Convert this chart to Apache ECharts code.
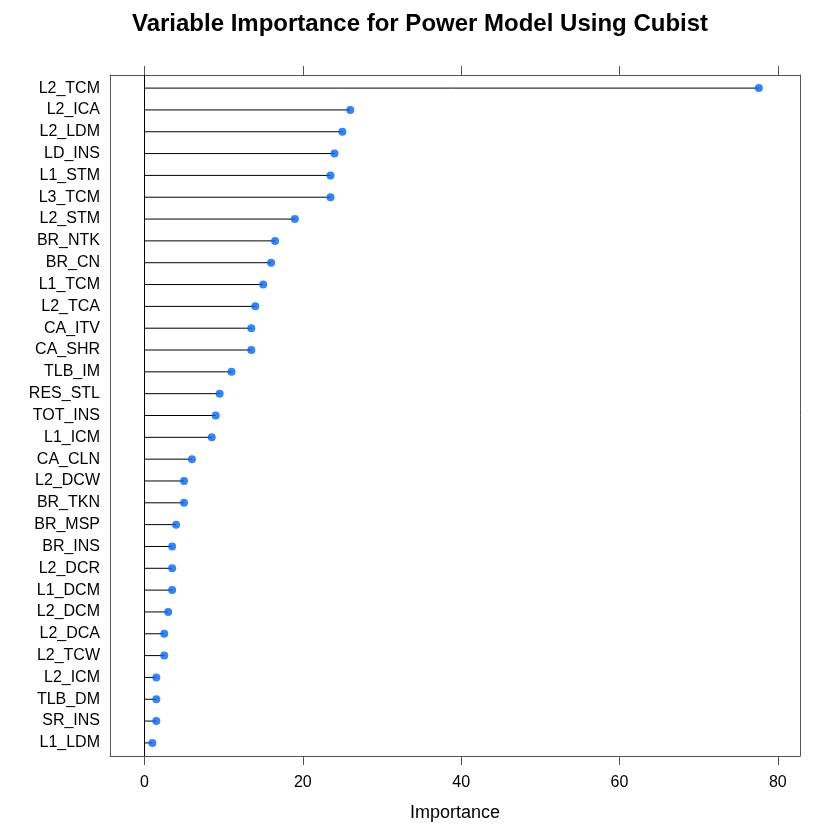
<!DOCTYPE html>
<html>
<head>
<meta charset="utf-8">
<script src="https://cdn.jsdelivr.net/npm/echarts@6/dist/echarts.min.js"></script>
<style>
html, body { margin: 0; padding: 0; background: #fff; }
#chart { width: 840px; height: 840px; }
</style>
</head>
<body>
<div id="chart"></div>
<script>
// variable names, top to bottom
var var_names = ['L2_TCM', 'L2_ICA', 'L2_LDM', 'LD_INS', 'L1_STM', 'L3_TCM', 'L2_STM', 'BR_NTK',
    'BR_CN', 'L1_TCM', 'L2_TCA', 'CA_ITV', 'CA_SHR', 'TLB_IM', 'RES_STL', 'TOT_INS', 'L1_ICM',
    'CA_CLN', 'L2_DCW', 'BR_TKN', 'BR_MSP', 'BR_INS', 'L2_DCR', 'L1_DCM', 'L2_DCM', 'L2_DCA',
    'L2_TCW', 'L2_ICM', 'TLB_DM', 'SR_INS', 'L1_LDM'];
// importance values
var imp_values = [77.6, 26.0, 25.0, 24.0, 23.5, 23.5, 19.0, 16.5,
    16.0, 15.0, 14.0, 13.5, 13.5, 11.0, 9.5, 9.0, 8.5,
    6.0, 5.0, 5.0, 4.0, 3.5, 3.5, 3.5, 3.0, 2.5,
    2.5, 1.5, 1.5, 1.5, 1.0];
var x_ticks = [0, 20, 40, 60, 80];

var font = 'Liberation Sans, Arial, Helvetica, sans-serif';
var frame_color = '#555555';

var pts = [];
var row_idx = [];
for (var i = 0; i < imp_values.length; i++) {
    pts.push([imp_values[i], i]);
    row_idx.push(i);
}

var chart = echarts.init(document.getElementById('chart'));
var option = {
    animation: false,
    title: {
        text: 'Variable Importance for Power Model Using Cubist',
        left: 'center',
        top: 7,
        textStyle: { fontFamily: font, fontSize: 24, fontWeight: 'bold', color: '#000' }
    },
    grid: { left: 110, right: 40, top: 75, bottom: 84 },
    xAxis: [
        {
            type: 'value', position: 'bottom', min: -4.35, max: 82.8,
            name: 'Importance', nameLocation: 'middle', nameGap: 48,
            nameTextStyle: { fontFamily: font, fontSize: 18, color: '#000' },
            axisLine: { show: true, onZero: false, lineStyle: { color: frame_color, width: 1 } },
            axisTick: { show: true, length: 9, customValues: x_ticks, lineStyle: { color: frame_color } },
            axisLabel: { customValues: x_ticks, margin: 19, fontFamily: font, fontSize: 16, color: '#000' },
            splitLine: { show: false }
        },
        {
            type: 'value', position: 'top', min: -4.35, max: 82.8,
            axisLine: { show: true, onZero: false, lineStyle: { color: frame_color, width: 1 } },
            axisTick: { show: true, length: 9, customValues: x_ticks, lineStyle: { color: frame_color } },
            axisLabel: { show: false },
            splitLine: { show: false }
        }
    ],
    yAxis: [
        {
            type: 'value', position: 'left', min: -0.6, max: 30.6, inverse: true,
            axisLine: { show: true, onZero: false, lineStyle: { color: frame_color, width: 1 } },
            axisTick: { show: false },
            axisLabel: {
                customValues: row_idx, margin: 10, fontFamily: font, fontSize: 16, color: '#000',
                formatter: function (v) { return var_names[v]; }
            },
            splitLine: { show: false }
        },
        {
            type: 'value', position: 'right', min: -0.6, max: 30.6, inverse: true,
            axisLine: { show: true, onZero: false, lineStyle: { color: frame_color, width: 1 } },
            axisTick: { show: false },
            axisLabel: { show: false },
            splitLine: { show: false }
        }
    ],
    series: [
        {
            // stems from 0 to the value
            type: 'custom',
            data: pts,
            renderItem: function (params, api) {
                var y = api.value(1);
                var p0 = api.coord([0, y]);
                var p1 = api.coord([api.value(0), y]);
                return {
                    type: 'line',
                    shape: { x1: p0[0], y1: p0[1], x2: p1[0], y2: p1[1] },
                    style: { stroke: '#000', lineWidth: 1 }
                };
            },
            z: 2
        },
        {
            type: 'scatter',
            data: pts,
            symbol: 'circle',
            symbolSize: 8,
            itemStyle: { color: '#0066ff' },
            markLine: {
                silent: true,
                symbol: ['none', 'none'],
                label: { show: false },
                lineStyle: { color: '#000', width: 1, type: 'solid' },
                data: [{ xAxis: 0 }]
            },
            z: 3
        }
    ]
};
chart.setOption(option);
</script>
</body>
</html>
